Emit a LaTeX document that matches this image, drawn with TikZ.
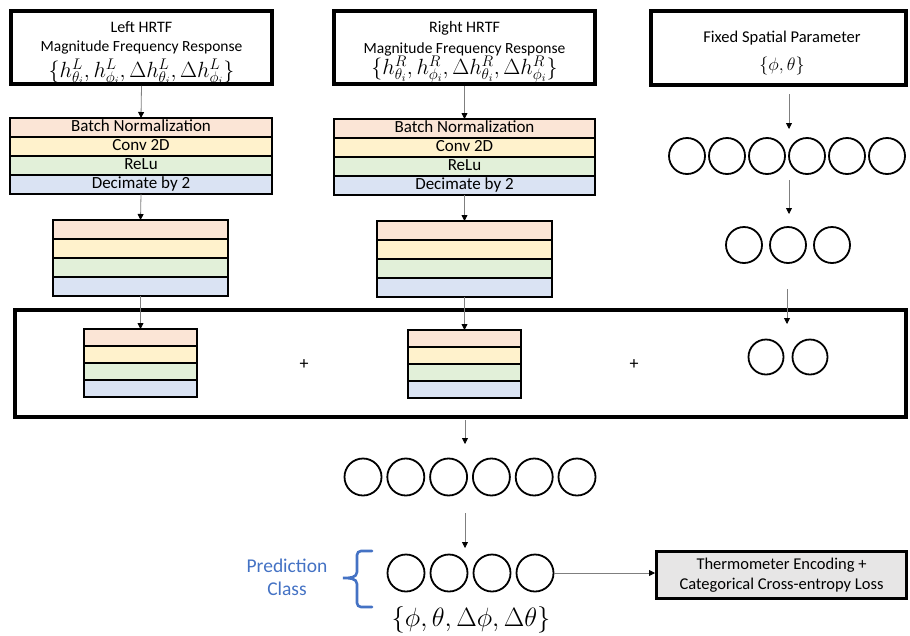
\RequirePackage{fix-cm}
\documentclass[tikz,border=0pt]{standalone}
\usepackage{fontspec}
\setmainfont{Carlito}
\usetikzlibrary{arrows.meta}

\definecolor{cBN}{HTML}{FBE5D6}
\definecolor{cCV}{HTML}{FFF2CC}
\definecolor{cRL}{HTML}{E2F0D9}
\definecolor{cDC}{HTML}{DAE3F3}
\definecolor{cBlue}{HTML}{4472C4}
\definecolor{cLine}{HTML}{7F7F7F}
\definecolor{cLoss}{HTML}{E7E6E6}

% one block of four stacked layers: name, centre x, top y, width, row height, four labels
\newcommand\layerstack[9]{%
  \node[layer, fill=cBN, minimum width=#4, minimum height=#5, anchor=north] (#1-1) at (#2,#3) {#6};
  \node[layer, fill=cCV, minimum width=#4, minimum height=#5, anchor=north] (#1-2) at (#1-1.south) {#7};
  \node[layer, fill=cRL, minimum width=#4, minimum height=#5, anchor=north] (#1-3) at (#1-2.south) {#8};
  \node[layer, fill=cDC, minimum width=#4, minimum height=#5, anchor=north] (#1-4) at (#1-3.south) {#9};
}

\begin{document}
\begin{tikzpicture}[x=1pt,y=-1pt,
  inbox/.style={draw, line width=3.8pt, inner sep=0pt},
  title/.style={inner sep=0pt, font=\fontsize{16}{18}\selectfont},
  layer/.style={draw, line width=1.8pt, outer sep=0pt, inner sep=0pt,
    text height=11.5pt, text depth=3pt, font=\fontsize{17}{18}\selectfont},
  unit/.style={circle, draw, line width=1.8pt, inner sep=0pt},
  arr/.style={draw=cLine, line width=0.8pt, -{Triangle[length=6pt,width=6pt,color=black]}},
  plus/.style={font=\fontsize{18}{20}\selectfont},
]
\useasboundingbox (0,0) rectangle (910,635);

% input boxes
\node[inbox, minimum width=261pt, minimum height=73pt] (lin) at (141.5,47.5) {};
\node[title] (lin-a) at (141.5,27) {Left HRTF};
\node[title, font=\fontsize{15.5}{18}\selectfont] (lin-b) at (141.5,47) {Magnitude Frequency Response};
\node[title, font=\fontsize{22}{22}\selectfont] (lin-c) at (141.5,72)
  {$\{h^L_{\theta_i}, h^L_{\phi_i}, \Delta h^L_{\theta_i}, \Delta h^L_{\phi_i}\}$};

\node[inbox, minimum width=261pt, minimum height=73pt] (rin) at (464.5,47.5) {};
\node[title] (rin-a) at (464.5,28) {Right HRTF};
\node[title, font=\fontsize{15.5}{18}\selectfont] (rin-b) at (464.5,49) {Magnitude Frequency Response};
\node[title, font=\fontsize{22}{22}\selectfont] (rin-c) at (464.5,69)
  {$\{h^R_{\theta_i}, h^R_{\phi_i}, \Delta h^R_{\theta_i}, \Delta h^R_{\phi_i}\}$};

\node[inbox, minimum width=255pt, minimum height=74pt] (fix) at (778.5,48) {};
\node[title, font=\fontsize{16.5}{18}\selectfont] (fix-a) at (782,38) {Fixed Spatial Parameter};
\node[title, font=\fontsize{18}{20}\selectfont] (fix-b) at (782,66) {$\{\phi, \theta\}$};

% convolutional blocks
\layerstack{L1}{141}{118}{262pt}{19pt}{Batch Normalization}{Conv 2D}{ReLu}{Decimate by 2}
\layerstack{R1}{464.5}{119}{261pt}{19pt}{Batch Normalization}{Conv 2D}{ReLu}{Decimate by 2}
\layerstack{L2}{140.5}{220}{175pt}{19pt}{}{}{}{}
\layerstack{R2}{464.5}{221}{175pt}{19pt}{}{}{}{}

% merge frame
\node[draw, line width=3.5pt, minimum width=891pt, minimum height=107pt] (merge) at (460.5,363.5) {};
\layerstack{L3}{140.5}{329}{113pt}{17pt}{}{}{}{}
\layerstack{R3}{464.5}{330}{113pt}{17pt}{}{}{}{}
\node[plus] (p1) at (304,365) {+};
\node[plus] (p2) at (634,365) {+};

% dense branch for the spatial parameter
\foreach \i in {1,...,6} \node[unit, minimum size=36pt] (s6-\i) at (647+40*\i,156) {};
\foreach \i in {1,...,3} \node[unit, minimum size=36pt] (s3-\i) at (700+44*\i,245) {};
\foreach \i in {1,...,2} \node[unit, minimum size=35pt] (s2-\i) at (722+44*\i,357) {};

% output head
\foreach \i in {1,...,6} \node[unit, minimum size=37pt] (h6-\i) at (320.2+42.8*\i,477) {};
\foreach \i in {1,...,4} \node[unit, minimum size=37pt] (o4-\i) at (363+43*\i,573) {};

\node[draw, line width=3pt, fill=cLoss, align=center, inner sep=0pt,
  minimum width=250pt, minimum height=47pt, font=\fontsize{16.5}{20}\selectfont] (loss) at (781.5,575)
  {Thermometer Encoding +\\ Categorical Cross-entropy Loss};

\node[text=cBlue, align=center, font=\fontsize{19.5}{23}\selectfont] (pred) at (287,577) {Prediction\\ Class};
\node[inner sep=0pt, font=\fontsize{26.5}{28}\selectfont] (outset) at (471,620) {$\{\phi, \theta, \Delta\phi, \Delta\theta\}$};

% brace grouping the prediction units
\draw[cBlue, line width=2.6pt, line cap=round]
  (372,551) -- (361,551) to[out=180,in=90] (357,555) -- (357,572)
  to[out=-90,in=0] (343,578) to[out=0,in=90] (357,584) -- (357,603)
  to[out=-90,in=180] (361,607) -- (372,607);

% connectors
\draw[arr] (lin.south) -- (L1-1.north);
\draw[arr] (rin.south) -- (R1-1.north);
\draw[arr] (L1-4.south) -- (L2-1.north);
\draw[arr] (R1-4.south) -- (R2-1.north);
\draw[arr] (L2-4.south) -- (L3-1.north);
\draw[arr] (R2-4.south) -- (R3-1.north);

\coordinate (fa0) at (789,94);  \coordinate (fa1) at (789,129);
\coordinate (fb0) at (789,180); \coordinate (fb1) at (789,214);
\coordinate (fc0) at (787,289); \coordinate (fc1) at (787,324);
\coordinate (ma0) at (465,420); \coordinate (ma1) at (465,444);
\coordinate (mb0) at (465,513); \coordinate (mb1) at (465,548);
\draw[arr] (fa0) -- (fa1);
\draw[arr] (fb0) -- (fb1);
\draw[arr] (fc0) -- (fc1);
\draw[arr] (ma0) -- (ma1);
\draw[arr] (mb0) -- (mb1);
\draw[arr] (o4-4.east) -- (o4-4.east -| loss.west);
\end{tikzpicture}
\end{document}
